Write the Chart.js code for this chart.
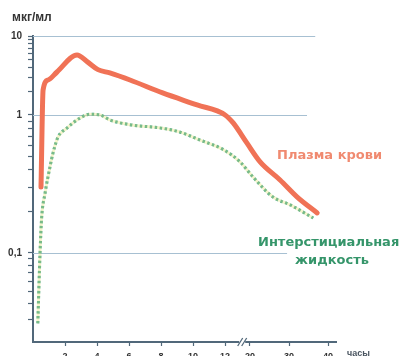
<!DOCTYPE html>
<html><head><meta charset="utf-8">
<script src="https://cdn.jsdelivr.net/npm/chart.js@4"></script>
<style>html,body{margin:0;padding:0;background:#fff;overflow:hidden}</style>
</head><body>
<canvas id="c" width="405" height="356" style="display:block;width:405px;height:356px"></canvas>
<script>
// ---- data (hours, µg/ml) ----
const plasmaTime  = [0.5, 0.63, 0.94, 1.5, 2.75, 3.4, 4.06, 4.8, 6.06, 8.1, 10.25, 12, 14.6, 19.0, 22.6, 27.7, 32.1, 37.2];
const plasmaValue = [0.30, 2.07, 2.77, 3.5, 5.75, 4.7, 3.75, 3.4, 2.77, 1.9, 1.34, 1.0, 0.875, 0.627, 0.457, 0.338, 0.254, 0.195];
const fluidTime   = [0.3, 0.44, 0.54, 0.75, 1.06, 1.25, 1.56, 2.1, 2.94, 3.56, 4.2, 4.8, 6.06, 8.1, 9.2, 10.4, 11.9, 16.8, 20.8, 25.9, 30.3, 36.2];
const fluidValue  = [0.028, 0.1, 0.18, 0.27, 0.42, 0.53, 0.69, 0.80, 0.95, 1.02, 1.0, 0.92, 0.85, 0.80, 0.75, 0.66, 0.56, 0.457, 0.355, 0.254, 0.223, 0.179];

const xTicks = [2, 4, 6, 8, 10, 12, 20, 30, 40];
const xTickLabels = ['2', '4', '6', '8', '10', '12', '20', '30', '40'];
const yMajorTicks = [10, 1, 0.1];
const yMajorLabels = ['10', '1', '0,1'];
const yMinorTicks = [9,8,7,6,5,4,3,2, 0.9,0.8,0.7,0.6,0.5,0.4,0.3,0.2, 0.09,0.08,0.07,0.06,0.05,0.04,0.03];
const gridEnds = [36.7, 34.6, 29.5]; // hour where each horizontal guide line stops

const seriesNames = ['Плазма крови', 'Интерстициальная', 'жидкость'];

// ---- broken / uneven axes (the source chart has a time break and uneven decades) ----
const scaleMaps = {
  x: { log: false, knots: [[0, 0], [12, 0.634], [20, 0.716], [40, 0.974], [42, 1]] },
  y: { log: true,  knots: [[0.02, 0], [0.1, 0.291], [1, 0.742], [10, 1]] }
};
class PiecewiseScale extends Chart.LinearScale {
  static id = 'piecewise';
  static defaults = {};
  getPixelForValue(value) {
    if (value === null || value === undefined || isNaN(value)) return NaN;
    const m = scaleMaps[this.id];
    const tr = m.log ? (v => Math.log10(v)) : (v => v);
    const k = m.knots;
    const t = tr(value);
    let i = 0;
    while (i < k.length - 2 && t > tr(k[i + 1][0])) i++;
    const a = tr(k[i][0]), b = tr(k[i + 1][0]);
    const f = k[i][1] + (t - a) / (b - a) * (k[i + 1][1] - k[i][1]);
    return this.getPixelForDecimal(f);
  }
  getValueForPixel(pixel) {
    const m = scaleMaps[this.id];
    const tr = m.log ? (v => Math.log10(v)) : (v => v);
    const k = m.knots;
    const f = this.getDecimalForPixel(pixel);
    let i = 0;
    while (i < k.length - 2 && f > k[i + 1][1]) i++;
    const a = tr(k[i][0]), b = tr(k[i + 1][0]);
    const t = a + (f - k[i][1]) / (k[i + 1][1] - k[i][1]) * (b - a);
    return m.log ? Math.pow(10, t) : t;
  }
}
Chart.register(PiecewiseScale);

const FONT = '"Liberation Sans", Arial, sans-serif';
const LABEL_FONT = '"DejaVu Sans", Verdana, sans-serif';

const overlay = {
  id: 'overlay',
  beforeDatasetsDraw(chart) {
    const { ctx, chartArea } = chart;
    const xs = chart.scales.x, ys = chart.scales.y;
    ctx.save();
    ctx.strokeStyle = '#a7c0d2';
    ctx.lineWidth = 1.2;
    yMajorTicks.forEach((v, i) => {
      const py = Math.round(ys.getPixelForValue(v)) + 0.5;
      ctx.beginPath();
      ctx.moveTo(chartArea.left, py);
      ctx.lineTo(xs.getPixelForValue(gridEnds[i]), py);
      ctx.stroke();
    });
    ctx.restore();
  },
  afterDraw(chart) {
    const { ctx, chartArea } = chart;
    const xs = chart.scales.x;
    ctx.save();
    // axis break mark
    const bx = xs.getPixelForValue(17.5), by = chartArea.bottom;
    ctx.fillStyle = '#fff';
    ctx.fillRect(bx - 3, by - 2, 6, 4);
    ctx.strokeStyle = '#51687a';
    ctx.lineWidth = 1.3;
    [-2, 2].forEach(d => {
      ctx.beginPath();
      ctx.moveTo(bx + d - 2.5, by + 4);
      ctx.lineTo(bx + d + 2.5, by - 4);
      ctx.stroke();
    });
    // texts
    ctx.textBaseline = 'alphabetic';
    ctx.fillStyle = '#333';
    ctx.font = 'bold 12px ' + FONT;
    ctx.textAlign = 'left';
    ctx.fillText('мкг/мл', 12, 21);
    ctx.font = 'bold 9px ' + FONT;
    ctx.fillStyle = '#4a5560';
    ctx.fillText('часы', chartArea.right + 11, 356);
    ctx.font = 'bold 13px ' + LABEL_FONT;
    ctx.fillStyle = '#f08a70';
    ctx.fillText(seriesNames[0], 277, 159);
    ctx.fillStyle = '#35956a';
    ctx.fillText(seriesNames[1], 258, 246);
    ctx.textAlign = 'center';
    ctx.fillText(seriesNames[2], 332, 264);
    ctx.restore();
  }
};

const fluidPoints = fluidTime.map((t, i) => ({ x: t, y: fluidValue[i] }));

new Chart(document.getElementById('c'), {
  type: 'line',
  data: {
    datasets: [
      {
        label: seriesNames[0],
        data: plasmaTime.map((t, i) => ({ x: t, y: plasmaValue[i] })),
        borderColor: '#f07256',
        borderWidth: 5,
        borderCapStyle: 'round',
        borderJoinStyle: 'round',
        pointRadius: 0,
        cubicInterpolationMode: 'monotone',
        fill: false
      },
      {
        label: seriesNames[1] + ' (halo)',
        data: fluidPoints,
        borderColor: 'rgba(232,230,130,0.4)',
        borderWidth: 3,
        pointRadius: 0,
        cubicInterpolationMode: 'monotone',
        fill: false
      },
      {
        label: seriesNames[1] + ' ' + seriesNames[2],
        data: fluidPoints,
        borderColor: '#2e9e8c',
        borderWidth: 3,
        borderDash: [2.5, 2.5],
        pointRadius: 0,
        cubicInterpolationMode: 'monotone',
        fill: false
      }
    ]
  },
  options: {
    responsive: false,
    animation: false,
    devicePixelRatio: 1,
    layout: { padding: { left: 0, top: 36, right: 69, bottom: 0 } },
    plugins: { legend: { display: false }, tooltip: { enabled: false }, title: { display: false } },
    scales: {
      x: {
        type: 'piecewise',
        min: 0, max: 42,
        afterFit: s => { s.height = 14; },
        afterBuildTicks: s => { s.ticks = xTicks.map(v => ({ value: v })); },
        ticks: {
          autoSkip: false, maxRotation: 0, padding: 5,
          callback: (v) => { const i = xTicks.indexOf(v); return i >= 0 ? xTickLabels[i] : ''; },
          font: { family: FONT, size: 9, weight: 'bold' }, color: '#333'
        },
        grid: { drawOnChartArea: false, drawTicks: true, tickLength: 4, tickColor: '#51687a', tickWidth: 1.2 },
        border: { color: '#51687a', width: 2 }
      },
      y: {
        type: 'piecewise',
        min: 0.02, max: 10,
        afterFit: s => { s.width = 33; },
        afterBuildTicks: s => { s.ticks = yMajorTicks.concat(yMinorTicks).map(v => ({ value: v })); },
        ticks: {
          autoSkip: false, padding: 6,
          callback: (v) => { const i = yMajorTicks.indexOf(v); return i >= 0 ? yMajorLabels[i] : ''; },
          font: { family: FONT, size: 10, weight: 'bold' }, color: '#333'
        },
        grid: { drawOnChartArea: false, drawTicks: true, tickLength: 5, tickColor: '#51687a', tickWidth: 1.2 },
        border: { color: '#51687a', width: 2 }
      }
    }
  },
  plugins: [overlay]
});
</script>
</body></html>
